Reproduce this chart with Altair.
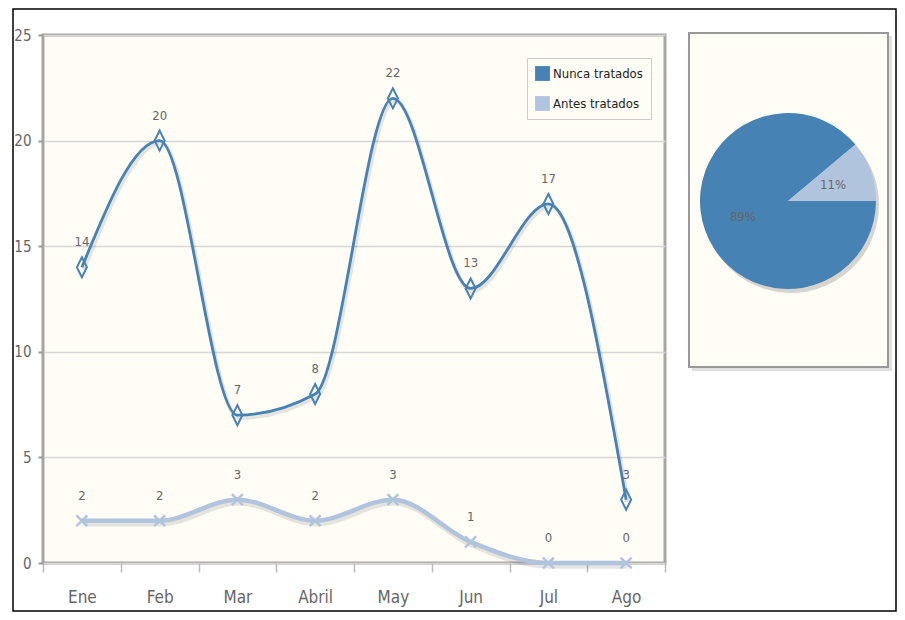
import math
import altair as alt
import pandas as pd

months = ["Ene", "Feb", "Mar", "Abril", "May", "Jun", "Jul", "Ago"]
nunca = [14, 20, 7, 8, 22, 13, 17, 3]
antes = [2, 2, 3, 2, 3, 1, 0, 0]
series = ["Nunca tratados", "Antes tratados"]
colors = ["#4682b4", "#b0c4de"]
y_ticks = [0, 5, 10, 15, 20, 25]

FONT = "Liberation Sans Narrow, DejaVu Sans Condensed, Arial Narrow, sans-serif"

rows = []
for m, a, b in zip(months, nunca, antes):
    rows.append({"mes": m, "serie": series[0], "valor": a})
    rows.append({"mes": m, "serie": series[1], "valor": b})
df = pd.DataFrame(rows)

tot = pd.DataFrame({"serie": series, "total": [sum(nunca), sum(antes)], "ord": [0, 1]})
tot["pct"] = (tot["total"] / tot["total"].sum() * 100).round().astype(int).astype(str) + "%"
one = pd.DataFrame({"k": [0]})

W, H = 622, 528

x = alt.X(
    "mes:N", sort=months, title=None,
    scale=alt.Scale(type="band", paddingInner=0, paddingOuter=0),
    axis=alt.Axis(tickBand="extent", labelAngle=0, labelFontSize=17, labelColor="#666",
                  labelFont=FONT, tickColor="#bbb", tickSize=9, tickWidth=1.5,
                  labelPadding=17, domain=False, gridColor="#d6d6d6", gridWidth=1.5),
)
y = alt.Y(
    "valor:Q", title=None,
    scale=alt.Scale(domain=[0, 25], nice=False),
    axis=alt.Axis(values=y_ticks, labelFontSize=15, labelColor="#666", labelFont=FONT,
                  tickColor="#999", tickSize=5, tickWidth=2, labelPadding=7,
                  domain=False, gridColor="#d6d6d6", gridWidth=1.5),
)
color = alt.Color(
    "serie:N", scale=alt.Scale(domain=series, range=colors),
    legend=alt.Legend(title=None, orient="none", legendX=484, legendY=23,
                      symbolType="square", symbolSize=220, symbolStrokeWidth=0,
                      labelFontSize=13, labelFont=FONT, labelColor="#222",
                      fillColor="#fffdf6", strokeColor="#cccccc", padding=8,
                      rowPadding=15, labelOffset=3),
)

base = alt.Chart(df)
only_n = alt.datum.serie == series[0]
only_a = alt.datum.serie == series[1]

shadow_n = base.transform_filter(only_n).mark_line(
    interpolate="monotone", color="black", opacity=0.1, strokeWidth=4.5, xOffset=1.5, yOffset=2.5
).encode(x=x, y=y)
shadow_a = base.transform_filter(only_a).mark_line(
    interpolate="monotone", color="black", opacity=0.1, strokeWidth=6.5, xOffset=1.5, yOffset=2.5
).encode(x=x, y=y)
line_n = base.transform_filter(only_n).mark_line(interpolate="monotone", strokeWidth=2.8).encode(
    x=x, y=y, color=color)
line_a = base.transform_filter(only_a).mark_line(interpolate="monotone", strokeWidth=4.5).encode(
    x=x, y=y, color=color)

diamond = "M0,-1L0.5,0L0,1L-0.5,0Z"
xshape = "M-1,-1L1,1M1,-1L-1,1"
pts_n = base.transform_filter(only_n).mark_point(
    shape=diamond, size=400, filled=False, strokeWidth=2, color=colors[0], opacity=1
).encode(x=x, y=y)
pts_a = base.transform_filter(only_a).mark_point(
    shape=xshape, size=120, filled=False, strokeWidth=2.5, color=colors[1], opacity=1
).encode(x=x, y=y)

labels = base.mark_text(dy=-25, fontSize=13, color="#666", font=FONT).encode(
    x=x, y=y, text="valor:Q"
)

# pie panel
CX, CY, R = 745, 166, 88
panel_shadow = alt.Chart(one).mark_rect(color="#000", opacity=0.12).encode(
    x=alt.value(649), x2=alt.value(849), y=alt.value(1), y2=alt.value(336)
)
panel = alt.Chart(one).mark_rect(fill="#fffdf6", stroke="#999", strokeWidth=2).encode(
    x=alt.value(646), x2=alt.value(845), y=alt.value(-2), y2=alt.value(332)
)
theta = alt.Theta("total:Q", stack=True,
                  scale=alt.Scale(range=[math.pi / 2, math.pi / 2 + 2 * math.pi]))
order = alt.Order("ord:Q")
pie_shadow = alt.Chart(tot).mark_arc(radius=R, color="#000", opacity=0.16,
                                     xOffset=3, yOffset=4).encode(
    theta=theta, order=order, x=alt.value(CX), y=alt.value(CY)
)
pie = alt.Chart(tot).mark_arc(radius=R).encode(
    theta=theta, color=color, order=order, x=alt.value(CX), y=alt.value(CY)
)
pie_text = alt.Chart(tot).mark_text(radius=48, fontSize=13, color="#666", font=FONT).encode(
    theta=theta, order=order, text="pct:N", x=alt.value(CX), y=alt.value(CY)
)

frame = alt.Chart(one).mark_rect(fillOpacity=0, stroke="black", strokeWidth=1.5).encode(
    x=alt.value(-30), x2=alt.value(853), y=alt.value(-26), y2=alt.value(576)
)

chart = alt.layer(
    shadow_n, shadow_a, line_n, line_a, pts_n, pts_a, labels,
    panel_shadow, panel, pie_shadow, pie, pie_text, frame
).properties(
    width=W, height=H,
    padding={"left": 4, "top": 0, "right": 0, "bottom": 0},
).configure_view(fill="#fffdf6", stroke="#a6a6a6", strokeWidth=3)

chart.save("out.html", embed_options={"renderer": "svg", "actions": False})
